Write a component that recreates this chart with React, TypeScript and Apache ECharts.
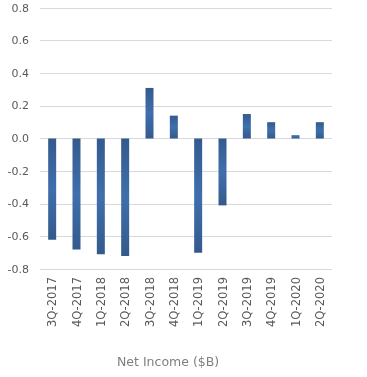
import React, { useEffect, useRef } from "react";
import * as echarts from "echarts";

const categories = ["3Q-2017", "4Q-2017", "1Q-2018", "2Q-2018", "3Q-2018", "4Q-2018", "1Q-2019", "2Q-2019", "3Q-2019", "4Q-2019", "1Q-2020", "2Q-2020"];
const netIncome = [-0.62, -0.68, -0.71, -0.72, 0.31, 0.14, -0.70, -0.41, 0.15, 0.10, 0.02, 0.10];
const axisName = "Net Income ($B)";

const FONT = "DejaVu Sans";

export default function App() {
  const ref = useRef<HTMLDivElement>(null);
  useEffect(() => {
    const chart = echarts.init(ref.current!, null, { renderer: "svg" });
    const grad = new echarts.graphic.LinearGradient(0, 0, 0, 1, [
      { offset: 0, color: "#345a8c" },
      { offset: 0.5, color: "#3f6fad" },
      { offset: 1, color: "#345a8c" },
    ]);
    chart.setOption({
      animation: false,
      textStyle: { fontFamily: FONT },
      grid: { left: 40, right: 35, top: 8, bottom: 108, containLabel: false },
      xAxis: {
        type: "category",
        data: categories,
        axisLine: { show: false },
        axisTick: { show: false },
        axisLabel: { rotate: 90, color: "#595959", fontSize: 11.5, margin: 8, interval: 0, fontFamily: FONT },
      },
      yAxis: {
        type: "value",
        min: -0.8,
        max: 0.8,
        interval: 0.2,
        axisLine: { show: false },
        axisTick: { show: false },
        axisLabel: { color: "#595959", fontSize: 11, margin: 11, fontFamily: FONT, formatter: (v: number) => v.toFixed(1) },
        splitLine: { lineStyle: { color: "#d9d9d9", width: 1 } },
      },
      graphic: [
        {
          type: "text",
          left: 117,
          top: 355,
          style: { text: axisName, fill: "#7f7f7f", fontSize: 12.5, fontFamily: FONT },
        },
      ],
      series: [
        {
          type: "bar",
          data: netIncome,
          barWidth: 8,
          itemStyle: { color: grad },
        },
      ],
    });
    return () => chart.dispose();
  }, []);
  return <div ref={ref} style={{ position: "fixed", left: 0, top: 0, width: 367, height: 377 }} />;
}
